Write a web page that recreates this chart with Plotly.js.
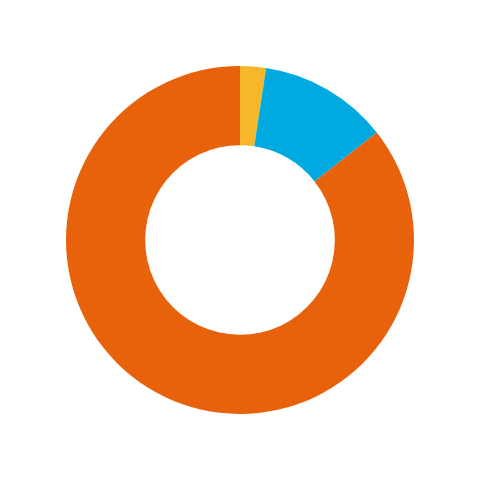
<!DOCTYPE html>
<html>
<head>
<meta charset="utf-8">
<script src="https://cdn.plot.ly/plotly-3.0.1.min.js"></script>
<style>html,body{margin:0;padding:0;background:#fff;}#chart{width:480px;height:480px;}</style>
</head>
<body>
<div id="chart"></div>
<script>
const categories = ["A", "B", "C"];
const values = [2.4, 12.0, 85.6];
const colors = ["#F6B82A", "#00A9DF", "#E8620C"];

Plotly.newPlot("chart", [{
  type: "pie",
  labels: categories,
  values: values,
  hole: 0.545,
  sort: false,
  direction: "clockwise",
  rotation: 0,
  textinfo: "none",
  hoverinfo: "none",
  marker: { colors: colors, line: { width: 0 } }
}], {
  width: 480,
  height: 480,
  showlegend: false,
  margin: { l: 66, r: 66, t: 66, b: 66 },
  paper_bgcolor: "#ffffff"
}, { staticPlot: true, displayModeBar: false });
</script>
</body>
</html>
